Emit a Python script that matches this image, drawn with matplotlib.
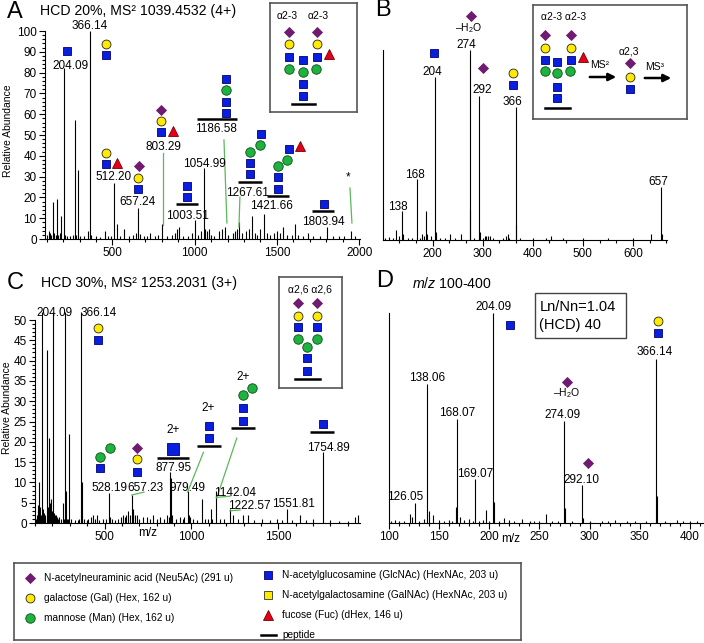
import matplotlib
matplotlib.use("Agg")
import matplotlib.pyplot as plt
import matplotlib.transforms as mtransforms
from matplotlib.patches import Rectangle
from matplotlib.ticker import MultipleLocator

plt.rcParams['font.family'] = ['Liberation Sans', 'DejaVu Sans']
plt.rcParams['mathtext.fontset'] = 'custom'
plt.rcParams['mathtext.rm'] = 'Liberation Sans'
plt.rcParams['mathtext.it'] = 'Liberation Sans:italic'

W, H, DPI = 704, 643, 100

# ---------------- spectra (m/z, relative abundance) ----------------
a_mz = [100, 112, 120, 128, 138, 145, 156, 163, 170, 180, 186, 204.09, 210, 222, 240, 258, 274, 280,
        292, 300, 325, 350, 366.14, 372, 400, 425, 454, 470, 490, 512.20, 528, 545, 573, 600, 625,
        645, 657.24, 670, 690, 710, 730, 760, 780, 803.29, 830, 860, 880, 895, 907, 930, 960, 985,
        1003.51, 1020, 1040, 1054.99, 1065, 1075, 1085, 1100, 1120, 1150, 1166, 1186.58, 1200,
        1230, 1245, 1255, 1267.61, 1290, 1310, 1330, 1348, 1365, 1380, 1400, 1421.66, 1440, 1460,
        1480, 1500, 1520, 1536, 1560, 1590, 1611, 1630, 1660, 1688, 1720, 1760, 1803.94, 1840,
        1880, 1910, 1950, 1975]
a_int = [2, 4, 3, 2, 18, 3, 2, 19, 2, 3, 11, 82, 2, 1.5, 1.5, 2, 57, 2,
         33, 1.5, 1.5, 4, 100, 2, 1.5, 1, 4, 1.5, 1.5, 27, 7, 1.5, 5, 1.5, 2,
         3, 15, 2.5, 1.5, 1.5, 3, 1.5, 2, 7, 1.5, 2, 3, 5, 6, 1.5, 1.5, 3,
         9, 2, 4, 34, 5, 4, 5, 2, 1.5, 4, 5, 6, 2,
         3, 4, 5, 8, 3, 4, 5, 11, 3, 2, 5, 12, 3, 2,
         3, 4, 3, 6, 2, 2, 7, 2, 1.5, 3, 1.5, 1.5, 6, 1.5,
         1.5, 1.5, 4, 1.5]

b_mz = [105, 112, 120, 127, 132, 138, 141, 150, 158, 168, 174, 179, 182, 186, 189, 197, 204, 206,
        215, 225, 234, 245, 257, 274, 275, 282, 292, 294, 300, 304, 307, 310, 314, 320, 340, 347,
        350, 352, 366, 367, 375, 400, 427, 436, 460, 500, 550, 600, 637, 657, 659]
b_int = [1, 1.5, 1, 5, 2, 15, 3, 1, 1, 32, 1, 3, 2, 15, 3, 2, 86, 4,
         1, 1, 3, 1, 3, 100, 16, 1, 76, 4, 1, 2, 2, 2, 2, 1, 1, 2,
         3, 1, 70, 8, 1, 1, 1, 2, 1, 1, 1, 1, 3, 28, 3]

c_mz = [105, 110, 115, 120, 125, 128, 132, 138, 144, 150, 155, 160, 167, 172, 177, 182, 186, 190,
        196, 204.09, 210, 215, 222, 228, 235, 240, 250, 259, 265, 272, 276, 283, 290, 296, 310,
        330, 345, 355, 366.14, 371, 380, 400, 407, 420, 435, 445, 455, 470, 490, 510, 528.19, 532,
        541, 560, 580, 595, 608, 615, 625, 637, 645, 657.23, 661, 666, 675, 685, 700, 720, 743,
        760, 781, 800, 819, 840, 858, 870, 877.95, 881, 890, 910, 934, 950, 960, 979.49, 985,
        992, 1010, 1030, 1061, 1080, 1095, 1111, 1120, 1142.04, 1165, 1190, 1222.57, 1242, 1270,
        1299, 1328, 1360, 1405, 1450, 1492, 1520, 1551.81, 1580, 1625, 1660, 1702, 1754.89, 1800,
        1850, 1900, 1942, 1961]
c_int = [1, 2, 4.5, 3, 10, 4, 2, 52, 3.5, 2.5, 1.5, 2, 42.5, 3, 4, 21, 5, 6,
         3, 52, 2.5, 2, 2, 1.5, 1, 1.5, 1, 5, 1, 52, 8, 1, 1, 22, 1,
         0.8, 0.8, 1, 52, 10, 1, 0.8, 1, 1.5, 2, 1, 2, 0.8, 1, 1, 7.5, 1.5,
         1, 0.8, 1, 1.5, 2, 1.5, 2, 3, 2, 7, 3.5, 3, 2, 2, 1, 1.5, 1.5,
         1, 2, 1, 1.5, 1, 2, 1.5, 12.5, 11, 2, 1, 1.5, 1, 1.5, 8, 2,
         1.5, 1, 0.8, 6, 1, 1, 3.5, 1, 8, 1, 1, 3.5, 2, 1,
         2, 2, 0.8, 1, 0.8, 1, 0.8, 3.5, 0.8, 2, 0.8, 1, 17.5, 0.8,
         0.6, 0.6, 1.5, 2]

d_mz = [102, 106, 110, 115, 121, 122.5, 126.05, 130, 135, 138.06, 140, 144, 150, 155, 160, 163,
        166.5, 168.07, 171, 175, 180, 184, 186.07, 190, 194, 197, 200, 204.09, 205, 210, 215, 220,
        225, 233, 241, 245, 250, 256.5, 262, 268, 274.09, 275.09, 282, 292.10, 293, 300, 312, 318,
        325, 337, 345, 356, 366.14, 367.14, 375, 387, 393, 400, 407]
d_int = [1, 1.5, 1, 1, 4.5, 3, 9.5, 1, 2, 66, 5.5, 4, 1.5, 1, 1.5, 1,
         7.5, 49.5, 3, 1.5, 2, 1, 21, 1, 1.5, 6, 1, 100, 10, 1, 2.5, 1.5,
         1, 2, 1, 0.8, 1, 4.5, 1, 0.8, 48.5, 7, 1, 18, 2.5, 0.8, 1, 0.8,
         1.5, 1, 0.8, 0.8, 78, 13, 1, 1.5, 1, 0.8, 1]

# ---------------- annotations: text labels (text, m/z, abundance) ----------------
a_labels = [('204.09', 248, 83.2), ('366.14', 364, 102.6), ('512.20', 509, 29.8),
            ('657.24', 655, 17.8), ('803.29', 807, 44.2), ('1003.51', 959, 11),
            ('1054.99', 1057, 36), ('1186.58', 1130, 52.9), ('1267.61', 1324, 22.1),
            ('1421.66', 1464, 15.9), ('1803.94', 1780, 8.2), ('*', 1932, 29.8)]
b_labels = [('–H$_2$O', 272, 111.6), ('274', 268, 102.6), ('204', 200, 88.4), ('292', 300, 79),
            ('366', 360, 72.6), ('168', 164, 34.2), ('138', 130, 17.4), ('657', 650, 30.5)]
c_labels = [('204.09', 215, 51.7), ('366.14', 468, 51.7), ('528.19', 526, 8.6),
            ('657.23', 733, 8.6), ('2+', 895, 22.9), ('877.95', 895, 13.5), ('2+', 1097, 28.3),
            ('979.49', 975, 8.6), ('2+', 1297, 36), ('1142.04', 1251, 7.4),
            ('1222.57', 1332, 4.2), ('1551.81', 1585, 4.7), ('1754.89', 1786, 18.5)]
d_labels = [('204.09', 204, 102.9), ('366.14', 365, 81.4), ('138.06', 138, 69),
            ('–H$_2$O', 277, 61.9), ('274.09', 273, 51.4), ('168.07', 168, 52.4),
            ('292.10', 292, 20.5), ('169.07', 186, 23.3), ('126.05', 116, 12.4)]

# glycan cartoons: anchor (m/z, abundance) + residues with offsets in pixels (dx right, dy up)
a_glycans = [
    (224, 90.4, [('sq', 0, 0)]),
    (461, 88.5, [('sq', 0, 0), ('gal', 0, 11)]),
    (461, 36, [('sq', 0, 0), ('gal', 0, 11), ('fuc', 11, 1)]),
    (655, 24, [('sq', 0, 0), ('gal', 0, 11), ('neu', 1, 23)]),
    (795, 51.4, [('sq', 0, 0), ('gal', 0, 11), ('neu', 0, 22), ('fuc', 12, 1)]),
    (953, 16.8, [('bar', 0, 0, 23), ('sq', 0, 7), ('sq', 0, 18)]),
    (1136, 57.7, [('bar', 0, 0, 41), ('sq', 9, 6), ('sq', 9, 17), ('man', 9, 29), ('sq', 9, 40)]),
    (1336, 27.4, [('bar', 0, 0, 24), ('sq', 0, 8), ('sq', 0, 19), ('man', 0, 30),
                  ('man', 10, 37), ('sq', 11, 48)]),
    (1506, 20.7, [('bar', 0, 0, 23), ('sq', 0, 7), ('sq', 0, 19), ('man', 0, 30),
                  ('man', 9, 36), ('sq', 11, 47), ('fuc', 22, 50)]),
    (1780, 13.5, [('bar', 0, 0, 23), ('sq', 1, 7)]),
]
b_glycans = [(276, 118, [('neu', 0, 0)]), (202, 98.4, [('sq', 0, 0)]),
             (300, 90.5, [('neu', 0, 0)]), (360, 81.6, [('sq', 0, 0), ('gal', 0, 12)])]
c_glycans = [
    (462, 45.1, [('sq', 0, 0), ('gal', 0, 12)]),
    (474, 13.5, [('sq', 0, 0), ('man', 0, 11), ('man', 10, 20)]),
    (687, 12.6, [('sq', 0, 0), ('gal', 0, 13), ('neu', 0, 24)]),
    (895, 16, [('bar', 0, 0, 32), ('sq', 0, 9, 1.35)]),
    (1101, 19, [('bar', 0, 0, 25), ('sq', 0, 8), ('sq', 0, 20)]),
    (1297, 23.4, [('bar', 0, 0, 25), ('sq', 0, 7), ('sq', 0, 20), ('man', 0, 33), ('man', 9, 40)]),
    (1752, 22.4, [('bar', 0, 0, 24), ('sq', 1, 8)]),
]
d_glycans = [(221, 94.3, [('sq', 0, 0)]), (368, 90.5, [('sq', 0, 0), ('gal', 0, 12)]),
             (277, 67.1, [('neu', 0, 0)]), (298, 28.6, [('neu', 0, 0)])]

# green leader lines ((x0, y0), (x1, y1))
a_leaders = [((807, 41.3), (807, 6.7)), ((1178, 47.6), (1196, 7.7)),
             ((1275, 20.2), (1269, 5.8)), ((1944, 24.5), (1956, 7.7))]
c_leaders = [((978, 7.6), (1069, 17.4)), ((1146, 6.2), (1261, 20.9)), ((1142, 6.3), (1222, 6.6)),
             ((1222, 3.0), (1280, 3.2)), ((657, 6.9), (727, 7.6))]

# schematic structures in the boxed insets (local pixel coordinates)
a_struct = [('neu', 19, 29), ('neu', 47, 29), ('gal', 19, 41), ('gal', 47, 41), ('sq', 19, 54),
            ('sq', 47, 54), ('sq', 33, 57), ('fuc', 59, 51), ('man', 19, 66), ('man', 33, 69),
            ('man', 46, 66), ('sq', 33, 81), ('sq', 33, 93)]
b_struct = [('neu', 12, 30), ('neu', 38, 30), ('gal', 12, 43), ('gal', 38, 43), ('sq', 12, 55),
            ('sq', 38, 55), ('sq', 24, 57), ('fuc', 50, 52), ('man', 12, 66), ('man', 24, 68),
            ('man', 37, 66), ('sq', 24, 82), ('sq', 24, 93),
            ('neu', 97, 58), ('gal', 97, 72), ('sq', 97, 84)]
c_struct = [('neu', 19, 26), ('neu', 38, 26), ('gal', 19, 39), ('gal', 38, 39), ('sq', 19, 50),
            ('sq', 38, 50), ('man', 19, 62), ('man', 38, 62), ('man', 28, 70), ('sq', 28, 81),
            ('sq', 28, 94)]

legend_items = [('neu', 'N-acetylneuraminic acid (Neu5Ac) (291 u)', 16, 15),
                ('gal', 'galactose (Gal) (Hex, 162 u)', 16, 35),
                ('man', 'mannose (Man) (Hex, 162 u)', 16, 55),
                ('sq', 'N-acetylglucosamine (GlcNAc) (HexNAc, 203 u)', 254, 12),
                ('gna', 'N-acetylgalactosamine (GalNAc) (HexNAc, 203 u)', 254, 32),
                ('fuc', 'fucose (Fuc) (dHex, 146 u)', 254, 52),
                ('pep', 'peptide', 254, 72)]

BLUE, YELLOW, GREEN, PURPLE, RED = '#0a1ee0', '#ffea00', '#1db33e', '#6f1b6f', '#e3001b'
LEAD = '#5cb85c'
STYLE = {
    'sq': dict(marker='s', ms=6.3, mfc=BLUE, mec='#00006e'),
    'gna': dict(marker='s', ms=6.3, mfc=YELLOW, mec='#333333'),
    'gal': dict(marker='o', ms=6.4, mfc=YELLOW, mec='#222222'),
    'man': dict(marker='o', ms=6.8, mfc=GREEN, mec='#0b4d17'),
    'neu': dict(marker='D', ms=5.3, mfc=PURPLE, mec=PURPLE),
    'fuc': dict(marker='^', ms=7.0, mfc=RED, mec='#7a0000'),
}

fig = plt.figure(figsize=(W / DPI, H / DPI), dpi=DPI)


def add_ax(left, right, top, bottom):
    ax = fig.add_axes([left / W, 1 - bottom / H, (right - left) / W, (bottom - top) / H])
    ax.set_facecolor('none')
    return ax


def mark(ax, kind, x, y, transform=None, scale=1.0):
    st = dict(STYLE[kind])
    st['ms'] = st['ms'] * scale
    kw = {} if transform is None else {'transform': transform}
    ax.plot([x], [y], linestyle='none', mew=0.6, clip_on=False, zorder=5, **st, **kw)


def draw_glycan(ax, x, y, parts):
    for p in parts:
        kind, dx, dy = p[:3]
        tr = ax.transData + mtransforms.ScaledTranslation(dx / DPI, dy / DPI, fig.dpi_scale_trans)
        if kind == 'bar':
            ax.plot([x], [y], marker='_', ms=p[3] / 1.389, mew=1.8, color='k',
                    transform=tr, clip_on=False, zorder=5)
        else:
            mark(ax, kind, x, y, transform=tr, scale=p[3] if len(p) > 3 else 1.0)


def spectrum(ax, mz, inten, xlim, ylim, xmaj, xmin, ymaj=None, ymin=None):
    ax.vlines(mz, 0, inten, colors='k', lw=0.8, clip_on=False)
    ax.set_xlim(*xlim)
    ax.set_ylim(*ylim)
    for s in ('top', 'right'):
        ax.spines[s].set_visible(False)
    ax.xaxis.set_major_locator(MultipleLocator(xmaj))
    ax.xaxis.set_minor_locator(MultipleLocator(xmin))
    if ymaj is None:
        ax.set_yticks([])
        ax.spines['left'].set_bounds(0, 100)
    else:
        ax.yaxis.set_major_locator(MultipleLocator(ymaj))
        ax.yaxis.set_minor_locator(MultipleLocator(ymin))
    ax.tick_params(which='both', direction='out', labelsize=8.5, width=0.8, pad=2)
    ax.tick_params(which='major', length=4)
    ax.tick_params(which='minor', length=2.5)


def annotate(ax, labels, glycans, leaders=()):
    for txt, x, y in labels:
        size = 7.5 if txt.startswith('–') else 8.5
        ax.text(x, y, txt, ha='center', va='center', fontsize=size)
    for x, y, parts in glycans:
        draw_glycan(ax, x, y, parts)
    for (x0, y0), (x1, y1) in leaders:
        ax.plot([x0, x1], [y0, y1], color=LEAD, lw=0.9, clip_on=False)


def inset_box(left, right, top, bottom, struct):
    ax = add_ax(left, right, top, bottom)
    ax.set_facecolor('white')
    ax.set_xlim(0, right - left)
    ax.set_ylim(bottom - top, 0)
    ax.set_xticks([])
    ax.set_yticks([])
    for s in ax.spines.values():
        s.set_color('#555555')
        s.set_linewidth(1.2)
    for kind, x, y in struct:
        mark(ax, kind, x, y)
    return ax


# ---- panel A ----
axA = add_ax(45, 360, 31, 239)
spectrum(axA, a_mz, a_int, (90, 2005), (0, 100), 500, 100, 10, 2)
annotate(axA, a_labels, a_glycans, a_leaders)
axA.set_ylabel('Relative Abundance', fontsize=7.5)
axA.yaxis.set_label_coords(-0.1, 0.52)

# ---- panel B ----
axB = add_ax(383, 667, 50, 240)
spectrum(axB, b_mz, b_int, (101, 668), (0, 100), 100, 100 / 3)
annotate(axB, b_labels, b_glycans)

# ---- panel C ----
axC = add_ax(35, 360, 320, 523)
spectrum(axC, c_mz, c_int, (100, 1970), (0, 50), 500, 100, 5, 1)
annotate(axC, c_labels, c_glycans, c_leaders)
axC.set_ylabel('Relative Abundance', fontsize=7.5)
axC.yaxis.set_label_coords(-0.07, 0.57)
axC.text(750, -0.05, 'm/z', transform=axC.get_xaxis_transform(), ha='center', va='center',
         fontsize=8.5)

# ---- panel D ----
axD = add_ax(389, 703, 313, 523)
spectrum(axD, d_mz, d_int, (100, 413), (0, 100), 50, 10)
annotate(axD, d_labels, d_glycans)
axD.text(221, -0.075, 'm/z', transform=axD.get_xaxis_transform(), ha='center', va='center',
         fontsize=8.5)
axD.add_patch(Rectangle((245.5, 88), 90.5, 21.5, fill=False, ec='#444444', lw=1, clip_on=False))
axD.text(250, 103, 'Ln/Nn=1.04', fontsize=10.5, va='center')
axD.text(250, 94.3, '(HCD) 40', fontsize=10.5, va='center')

# ---- boxed structures ----
insA = inset_box(270, 357, 3, 112, a_struct)
insA.text(17, 13, 'α2-3', ha='center', va='center', fontsize=7.5)
insA.text(48, 13, 'α2-3', ha='center', va='center', fontsize=7.5)
insA.plot([22, 45], [101, 101], color='k', lw=1.8)

insB = inset_box(533, 687, 5, 119, b_struct)
insB.text(31, 12, 'α2-3 α2-3', ha='center', va='center', fontsize=7.5)
insB.plot([12, 37], [103, 103], color='k', lw=1.8)
insB.annotate('', xy=(86, 72), xytext=(54, 72),
              arrowprops=dict(arrowstyle='-|>', lw=1.8, color='k', mutation_scale=11))
insB.annotate('', xy=(141, 73), xytext=(109, 73),
              arrowprops=dict(arrowstyle='-|>', lw=1.8, color='k', mutation_scale=11))
insB.text(67, 60, 'MS²', ha='center', va='center', fontsize=7.5)
insB.text(122, 62, 'MS³', ha='center', va='center', fontsize=7.5)
insB.text(96, 47, 'α2,3', ha='center', va='center', fontsize=7.5)

insC = inset_box(279, 342, 277, 388, c_struct)
insC.text(31, 12, 'α2,6 α2,6', ha='center', va='center', fontsize=7.5)
insC.plot([16, 41], [102, 102], color='k', lw=1.8)

# ---- panel letters and titles ----
def ftext(x, y, s, **kw):
    fig.text(x / W, 1 - y / H, s, va='center', ha='left', **kw)

ftext(7, 12, 'A', fontsize=17)
ftext(40, 11, 'HCD 20%, MS² 1039.4532 (4+)', fontsize=10.2)
ftext(375, 10, 'B', fontsize=17)
ftext(7, 283, 'C', fontsize=17)
ftext(41, 283, 'HCD 30%, MS² 1253.2031 (3+)', fontsize=10.2)
ftext(376, 281, 'D', fontsize=17)
ftext(412, 283, '$m/z$ 100-400', fontsize=10.2)

# ---- symbol legend ----
leg = add_ax(14, 521, 563, 640)
leg.set_facecolor('white')
leg.set_xlim(0, 507)
leg.set_ylim(77, 0)
leg.set_xticks([])
leg.set_yticks([])
for s in leg.spines.values():
    s.set_color('#555555')
    s.set_linewidth(1.2)
for kind, label, x, y in legend_items:
    if kind == 'pep':
        leg.plot([x - 7, x + 8], [y, y], color='k', lw=1.8)
    else:
        mark(leg, kind, x, y)
    leg.text(x + 14, y, label, fontsize=7.3, va='center')

fig.savefig('out.png', dpi=DPI)
